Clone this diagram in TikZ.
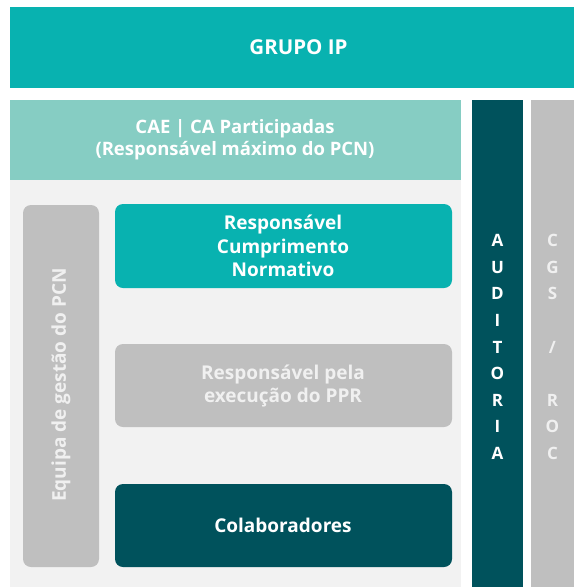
\documentclass[tikz,border=0pt]{standalone}
\usepackage{fontspec}
\setmainfont{Open Sans}
\definecolor{teal1}{HTML}{08B2B0}
\definecolor{tealL}{HTML}{86CDC3}
\definecolor{tealD}{HTML}{00525C}
\definecolor{grayM}{HTML}{BFBFBF}
\definecolor{grayL}{HTML}{F2F2F2}
\definecolor{txtL}{HTML}{F0F0F0}
\tikzset{
  flat/.style={draw=none,inner sep=0pt},
  rbox/.style={draw=none,rounded corners=8pt},
  lbl/.style={inner sep=0pt,align=center,font=\bfseries\fontsize{19}{23.5}\selectfont,text=white},
  vlet/.style={inner sep=0pt,align=center,font=\bfseries\fontsize{17}{26.6}\selectfont}
}
\begin{document}
\begin{tikzpicture}[x=1pt,y=-1pt]
\useasboundingbox (0,0) rectangle (574,587);
\fill[white] (0,0) rectangle (574,587);
% boxes
\fill[teal1] (10,7) rectangle (574,88);
\fill[tealL] (10,100) rectangle (461,180);
\fill[grayL] (10,180) rectangle (461,587);
\fill[tealD] (472,100) rectangle (523,587);
\fill[grayM] (531,100) rectangle (574,587);
\fill[grayM,rbox] (23,205) rectangle (99,567);
\fill[teal1,rbox] (115,204) rectangle (452,288);
\fill[grayM,rbox] (115,344) rectangle (452,427);
\fill[tealD,rbox] (115,484) rectangle (452,567);
% texts
\node[lbl,font=\bfseries\fontsize{20.5}{24}\selectfont] (grupo) at (298.5,47) {GRUPO IP};
\node[lbl,font=\bfseries\fontsize{18.5}{22}\selectfont] (cae) at (235,140) {CAE | CA Participadas\\(Responsável máximo do PCN)};
\node[lbl] (rcn) at (283,246) {Responsável\\Cumprimento\\Normativo};
\node[lbl,text=txtL] (rppr) at (283,386) {Responsável pela\\execução do PPR};
\node[lbl] (colab) at (283,525) {Colaboradores};
\node[lbl,text=txtL,rotate=90,font=\bfseries\fontsize{19}{23}\selectfont] (equipa) at (61,385) {Equipa de gestão do PCN};
\node[vlet,text=white] (aud) at (497.5,347) {A\\U\\D\\I\\T\\O\\R\\I\\A};
\node[vlet,text=txtL] (cgs) at (552.5,347) {C\\G\\S\\[26.6pt]/\\[26.6pt]R\\O\\C};
\end{tikzpicture}
\end{document}
